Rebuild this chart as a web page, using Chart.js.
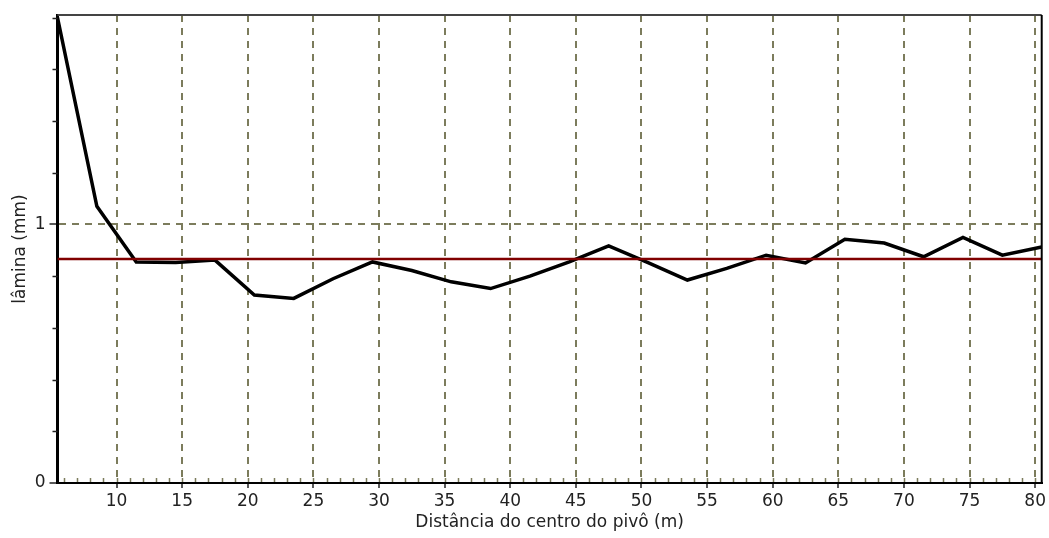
<!DOCTYPE html>
<html lang="pt">

<head>
  <meta charset="UTF-8">
  <title>Lâmina ao longo do pivô</title>
  <style>
    body {
      margin: 0;
      background: #fff;
    }

    #box {
      width: 1049px;
      height: 538px;
    }
  </style>
</head>

<body>
  <div id="box"><canvas id="grafico"></canvas></div>

  <script src="https://cdn.jsdelivr.net/npm/chart.js"></script>
  <script>
    // distância do centro do pivô (m) e lâmina coletada (mm)
    const distancia = [5.5, 8.5, 11.5, 14.5, 17.5, 20.5, 23.5, 26.5, 29.5, 32.5, 35.5, 38.5, 41.5,
      44.5, 47.5, 50.5, 53.5, 56.5, 59.5, 62.5, 65.5, 68.5, 71.5, 74.5, 77.5, 80.5];
    const lamina = [1.80, 1.07, 0.855, 0.853, 0.862, 0.727, 0.714, 0.79, 0.855, 0.822, 0.778, 0.752, 0.80,
      0.855, 0.917, 0.852, 0.785, 0.83, 0.881, 0.851, 0.943, 0.928, 0.875, 0.95, 0.881, 0.913];
    const laminaMedia = 0.866;

    const xTicks = [10, 15, 20, 25, 30, 35, 40, 45, 50, 55, 60, 65, 70, 75, 80];
    const yTicks = [0, 1];
    const yMenores = [0.2, 0.4, 0.6, 0.8, 1.2, 1.4, 1.6, 1.8];

    const corGrade = '#7c7c5c';
    const corTexto = '#222';
    const fonte = { family: 'DejaVu Sans', size: 17, lineHeight: 1.2 };

    // ticks menores, borda de cima e da direita
    const molduraPlugin = {
      id: 'moldura',
      afterDraw(chart) {
        const { ctx, chartArea: a, scales: { x, y } } = chart;
        ctx.save();
        ctx.lineWidth = 1.5;
        ctx.strokeStyle = corGrade;
        ctx.beginPath();
        for (let v = Math.ceil(x.min); v <= x.max; v++) {
          const px = Math.round(x.getPixelForValue(v)) + 0.5;
          ctx.moveTo(px, a.bottom - 1);
          ctx.lineTo(px, a.bottom - 5);
        }
        ctx.stroke();

        ctx.strokeStyle = corTexto;
        ctx.beginPath();
        yMenores.forEach(v => {
          const py = Math.round(y.getPixelForValue(v)) + 0.5;
          ctx.moveTo(a.left - 5, py);
          ctx.lineTo(a.left, py);
        });
        ctx.stroke();

        ctx.lineWidth = 2;
        ctx.strokeStyle = '#444';
        ctx.beginPath();
        ctx.moveTo(a.left, a.top);
        ctx.lineTo(a.right, a.top);
        ctx.stroke();
        ctx.strokeStyle = '#000';
        ctx.beginPath();
        ctx.moveTo(a.right, a.top);
        ctx.lineTo(a.right, a.bottom);
        ctx.stroke();
        ctx.restore();
      }
    };

    new Chart(document.getElementById('grafico'), {
      type: 'line',
      data: {
        datasets: [{
          label: 'média',
          data: [{ x: distancia[0], y: laminaMedia }, { x: distancia[distancia.length - 1], y: laminaMedia }],
          borderColor: '#800000',
          borderWidth: 2.5,
          pointRadius: 0,
          order: 0
        }, {
          label: 'lâmina',
          data: distancia.map((d, i) => ({ x: d, y: lamina[i] })),
          borderColor: '#000',
          borderWidth: 3.5,
          pointRadius: 0,
          tension: 0,
          order: 1
        }]
      },
      options: {
        responsive: true,
        maintainAspectRatio: false,
        animation: false,
        layout: { padding: { left: 0, top: 15, right: 5, bottom: 0 } },
        plugins: {
          legend: { display: false },
          tooltip: { enabled: false }
        },
        scales: {
          x: {
            type: 'linear',
            min: 5.5,
            max: 80.5,
            afterBuildTicks: s => { s.ticks = xTicks.map(v => ({ value: v })); },
            afterFit: s => { s.height = 55; },
            ticks: { font: fonte, color: corTexto, padding: 3, maxRotation: 0, autoSkip: false, callback: v => String(v) },
            grid: { color: corGrade, lineWidth: 2, tickColor: corTexto, tickLength: 5, tickWidth: 1.5 },
            border: { color: '#000', width: 2, dash: [7, 6] },
            title: {
              display: true,
              text: 'Distância do centro do pivô (m)',
              font: fonte,
              color: corTexto,
              padding: { top: 0, bottom: 5 }
            }
          },
          y: {
            min: 0,
            max: 1.81,
            afterBuildTicks: s => { s.ticks = yTicks.map(v => ({ value: v })); },
            afterFit: s => { s.width = 57.5; },
            ticks: { font: fonte, color: corTexto, padding: 4, callback: v => String(v) },
            grid: {
              color: c => (c.tick && c.tick.value === 1 ? corGrade : 'transparent'),
              lineWidth: 2,
              tickColor: corTexto,
              tickLength: 8,
              tickWidth: 1.5
            },
            border: { color: '#000', width: 3, dash: [7, 6] },
            title: {
              display: true,
              text: 'lâmina (mm)',
              font: fonte,
              color: corTexto,
              padding: { top: 10, bottom: 0 }
            }
          }
        }
      },
      plugins: [molduraPlugin]
    });
  </script>
</body>

</html>
